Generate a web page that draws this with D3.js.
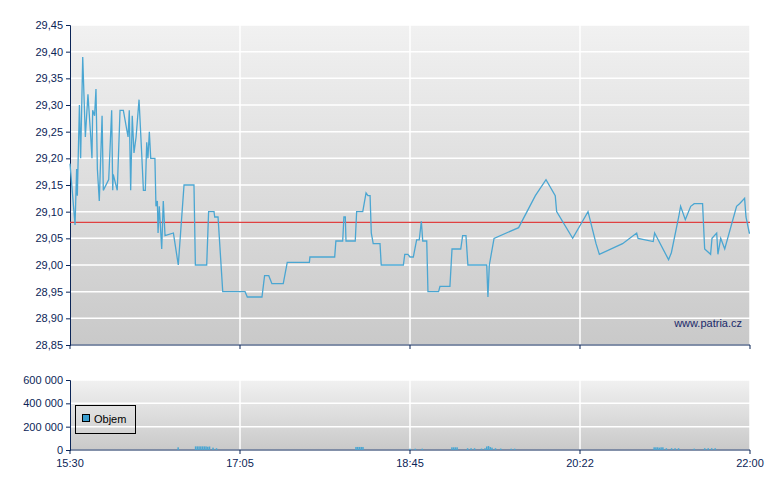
<!DOCTYPE html>
<html><head><meta charset="utf-8">
<script src="https://cdn.jsdelivr.net/npm/d3@7"></script>
<style>body{margin:0;background:#fff}text{font-family:"Liberation Sans",Arial,sans-serif}</style>
</head><body><svg id="c" width="780" height="490"></svg>
<script>
// minutes since 15:30
const priceTimes = [0,2.9,3.8,4.2,5.4,6.1,7.3,8.8,10.3,11.9,12.6,13.0,14.1,14.9,15.7,16.8,18.4,19.1,22.2,23.9,24.5,24.8,27.1,28.7,30.6,33.3,34,34.8,35.7,36.7,37.9,39.6,41.1,42.1,43.2,44,44.7,45.5,46.3,48.7,49.3,50.1,50.5,51.2,52.6,53.5,54.5,59.3,62.1,65.4,71.1,71.9,78.4,79.5,82.6,83,84.9,87.6,100.4,101.7,
110.1,111.6,114,115.8,122.3,124.6,137.3,137.6,151.8,152.5,156.4,157.1,157.9,158.3,163.6,164.4,167.9,169.8,170.9,172.1,172.8,173.9,177.8,178.5,191.2,192,193.8,195,196.9,198.8,200.3,201.5,202.3,204.6,205.3,211.4,212.2,217.9,219.1,224.1,225.2,227.1,228.2,239,239.7,240.5,243.2,
257.3,266.9,273,278.3,279.1,288.3,297.1,301.7,303.6,316.9,325,325.8,334.5,335.3,343.3,344.9,349.1,350.2,352.9,356,358,362.8,364,367.4,368.2,370.9,371.6,373.2,375.5,382.3,384,386.9,387.7,389.6,390];
const priceValues = [29.19,29.075,29.18,29.13,29.30,29.20,29.39,29.24,29.32,29.24,29.20,29.29,29.28,29.33,29.18,29.12,29.28,29.14,29.16,29.29,29.14,29.17,29.14,29.29,29.29,29.24,29.29,29.14,29.28,29.21,29.24,29.31,29.21,29.14,29.14,29.23,29.20,29.25,29.20,29.20,29.11,29.12,29.06,29.11,29.03,29.12,29.055,29.06,29.00,29.15,29.15,29.00,29.00,29.10,29.10,29.09,29.09,28.95,28.95,28.94,
28.94,28.98,28.98,28.965,28.965,29.005,29.005,29.015,29.015,29.045,29.045,29.09,29.09,29.045,29.045,29.10,29.10,29.135,29.13,29.13,29.06,29.04,29.04,29.00,29.00,29.02,29.02,29.015,29.015,29.047,29.047,29.082,29.045,29.045,28.95,28.95,28.96,28.96,29.03,29.03,29.055,29.055,29.00,29.00,28.94,29.00,29.05,
29.07,29.13,29.16,29.13,29.10,29.05,29.10,29.04,29.02,29.04,29.06,29.05,29.044,29.06,29.01,29.023,29.09,29.11,29.085,29.11,29.115,29.115,29.03,29.02,29.05,29.06,29.02,29.05,29.03,29.11,29.115,29.125,29.09,29.06,29.06];
const refPrice = 29.08;
const volTimes = [62,72,73,74,75,76,77,78,79,80,82,84,164,165,166,167,168,195,198,202,219,220,221,222,228,230,232,236,238,239,240,241,242,244,247,253,255,335,336,337,338,339,340,342,345,347,349,358,364,366,368,370];
const volValues = [23000,31000,31000,31000,31000,31000,31000,31000,28000,30000,20000,15000,26000,26000,26000,26000,26000,11000,11000,11000,23000,23000,23000,23000,15000,15000,15000,12000,15000,30000,34000,25000,20000,15000,12000,11000,11000,23000,23000,23000,20000,23000,23000,15000,15000,15000,15000,11000,15000,15000,15000,15000];
const priceTicks = [28.85,28.90,28.95,29.00,29.05,29.10,29.15,29.20,29.25,29.30,29.35,29.40,29.45];
const volTicks = [0,200000,400000,600000];
const timeTicks = [0,97.5,195,292.5,390];
const timeLabels = ["15:30","17:05","18:45","20:22","22:00"];

const svg = d3.select("#c");
const L=70,R=750, mT=25,mB=345, vT=380,vB=450, axisC="#0b2557";
const x = d3.scaleLinear().domain([0,390]).range([L,R]);
const y = d3.scaleLinear().domain([28.85,29.45]).range([mB,mT]);
const yv = d3.scaleLinear().domain([0,600000]).range([vB,vT]);

const defs = svg.append("defs");
const g = defs.append("linearGradient").attr("id","bg").attr("x1",0).attr("y1",0).attr("x2",0).attr("y2",1);
g.append("stop").attr("offset",0).attr("stop-color","#f1f1f1");
g.append("stop").attr("offset",1).attr("stop-color","#c9c9c9");

function panel(top,bot,yScale,ticks,fmt){
  svg.append("rect").attr("x",L).attr("y",top).attr("width",R-L).attr("height",bot-top).attr("fill","url(#bg)");
  svg.append("g").selectAll("line").data(ticks).join("line")
    .attr("x1",L).attr("x2",R).attr("y1",d=>yScale(d)).attr("y2",d=>yScale(d)).attr("stroke","#fff").attr("stroke-width",1.5);
  svg.append("g").selectAll("line").data(timeTicks.slice(1)).join("line")
    .attr("x1",d=>x(d)).attr("x2",d=>x(d)).attr("y1",top).attr("y2",bot).attr("stroke","#fff").attr("stroke-width",1.5);
  const ax = svg.append("g").attr("transform",`translate(${L},0)`)
    .call(d3.axisLeft(yScale).tickValues(ticks).tickFormat(fmt).tickSize(4));
  ax.selectAll("path,line").attr("stroke",axisC);
  ax.selectAll("text").attr("fill",axisC).style("font-size","11px");
  svg.append("line").attr("x1",L).attr("x2",R).attr("y1",bot).attr("y2",bot).attr("stroke",axisC);
  svg.append("g").selectAll("line").data(timeTicks).join("line")
    .attr("x1",d=>x(d)).attr("x2",d=>x(d)).attr("y1",bot).attr("y2",bot+4).attr("stroke",axisC);
}
panel(mT,mB,y,priceTicks,d=>d3.format(".2f")(d).replace(".",","));
panel(vT,vB,yv,volTicks,d=>d3.format(",")(d).replace(/,/g," "));

svg.append("line").attr("x1",L).attr("x2",R).attr("y1",y(refPrice)).attr("y2",y(refPrice)).attr("stroke","#e04040").attr("stroke-width",1.2);

const pts = priceTimes.map((t,i)=>[t,priceValues[i]]);
svg.append("path").datum(pts).attr("fill","none").attr("stroke","#4aa6d2").attr("stroke-width",1.3)
  .attr("d",d3.line().x(d=>x(d[0])).y(d=>y(d[1])));

svg.append("text").attr("x",742).attr("y",327).attr("text-anchor","end").attr("fill","#1a2a6a").style("font-size","11px").text("www.patria.cz");

svg.append("g").selectAll("rect").data(volTimes.map((t,i)=>[t,volValues[i]])).join("rect")
  .attr("x",d=>x(d[0])-0.7).attr("width",1.5).attr("y",d=>yv(d[1])).attr("height",d=>vB-yv(d[1])).attr("fill","#4aa6d2");

svg.append("rect").attr("x",75.5).attr("y",405.5).attr("width",60).attr("height",28).attr("fill","none").attr("stroke","#000");
svg.append("rect").attr("x",82.5).attr("y",414.5).attr("width",7).attr("height",7).attr("fill","#3a9ed0").attr("stroke","#000");
svg.append("text").attr("x",94).attr("y",423).attr("fill","#000").style("font-size","11px").text("Objem");

svg.append("g").selectAll("text").data(timeTicks).join("text")
  .attr("x",d=>x(d)).attr("y",467).attr("text-anchor","middle").attr("fill",axisC).style("font-size","11px")
  .text((d,i)=>timeLabels[i]);
</script></body></html>
